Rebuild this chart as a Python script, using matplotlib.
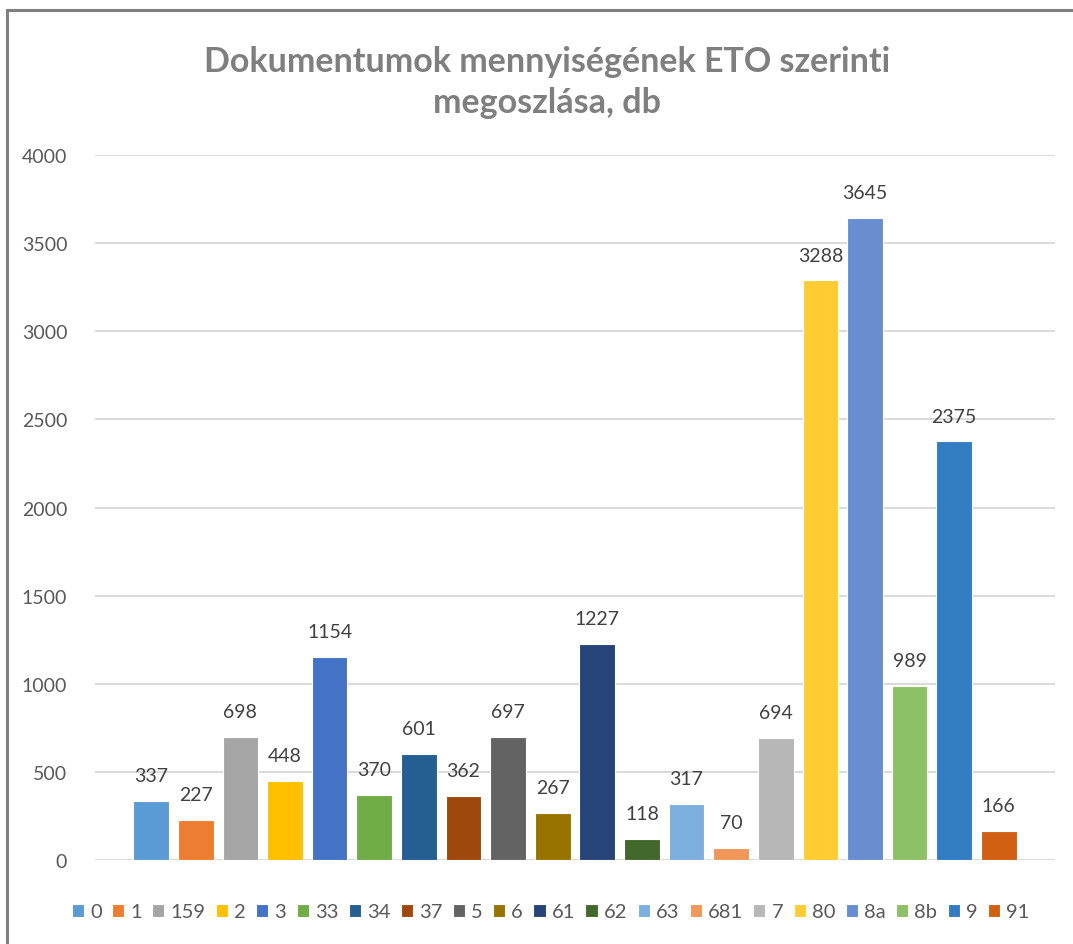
import matplotlib.pyplot as plt
from matplotlib.patches import Rectangle

categories = ["0", "1", "159", "2", "3", "33", "34", "37", "5", "6", "61", "62",
              "63", "681", "7", "80", "8a", "8b", "9", "91"]
values = [337, 227, 698, 448, 1154, 370, 601, 362, 697, 267, 1227, 118,
          317, 70, 694, 3288, 3645, 989, 2375, 166]
colors = ["#5B9BD5", "#ED7D31", "#A5A5A5", "#FFC000", "#4472C4", "#70AD47",
          "#255E91", "#9E480E", "#636363", "#997300", "#264478", "#43682B",
          "#7CAFDD", "#F1975A", "#B7B7B7", "#FFCD33", "#698ED0", "#8CC168",
          "#327DC2", "#D26012"]
title = "Dokumentumok mennyiségének ETO szerinti\nmegoszlása, db"

plt.rcParams["font.family"] = ["Lato", "DejaVu Sans"]

fig = plt.figure(figsize=(10.73, 9.45), dpi=100)
ax = fig.add_axes([95 / 1073, 84 / 945, 960 / 1073, 705 / 945])

for i, (cat, val, col) in enumerate(zip(categories, values, colors)):
    ax.bar(i, val, width=0.8, color=col, edgecolor="white", linewidth=0.8,
           label=cat, zorder=3)
    ax.text(i, val + 95, str(val), ha="center", va="bottom",
            fontsize=14, color="#404040")

ax.set_xlim(-1.26, 20.26)
ax.set_ylim(0, 4000)
ax.set_yticks(range(0, 4001, 500))
ax.set_xticks([])
ax.tick_params(axis="y", length=0, pad=20, labelsize=14, labelcolor="#595959")
ax.grid(axis="y", color="#D9D9D9", linewidth=1.4, zorder=0)
for s in ax.spines.values():
    s.set_visible(False)

fig.text(0.510, 0.913, title, ha="center", va="center", fontsize=24.5,
         fontweight="bold", color="#7F7F7F", linespacing=1.36)

leg = fig.legend(loc="center", bbox_to_anchor=(0.513, 0.034), ncol=20,
                 frameon=False, handlelength=0.6, handleheight=0.6,
                 handletextpad=0.3, columnspacing=0.52,
                 prop={"size": 14.5})
for t in leg.get_texts():
    t.set_color("#595959")

fig.patches.append(Rectangle((7 / 1073, -0.01), 1.1, 1 - 11 / 945 + 0.01,
                             transform=fig.transFigure, fill=False,
                             edgecolor="#808080", linewidth=2.2))

fig.savefig("out.png", dpi=100)
